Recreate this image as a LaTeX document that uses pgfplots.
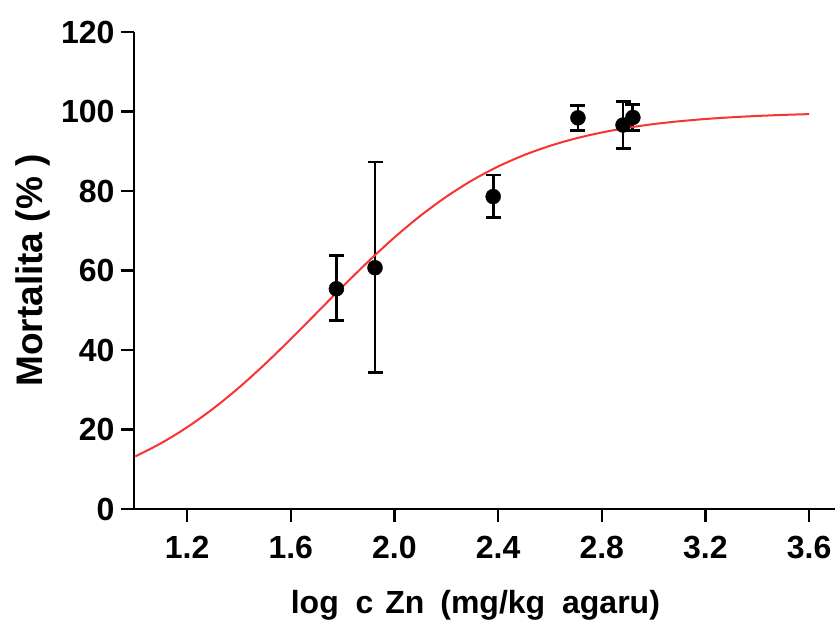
\documentclass[border=0pt]{standalone}
\usepackage{pgfplots}
\pgfplotsset{compat=1.18}
\usepackage{pgfplotstable}
\usepackage{fontspec}
\setmainfont{Liberation Sans}
\definecolor{fitred}{RGB}{250,50,50}
\pgfplotstableread{
x y ep em
1.776 55.4 8.3 8.0
1.925 60.7 26.6 26.3
2.381 78.6 5.4 5.3
2.708 98.4 3.2 3.1
2.882 96.6 6.0 6.0
2.920 98.5 3.2 3.2
}\points
\pgfplotstableread{
x y
1.0 13.22
1.1 16.57
1.2 20.56
1.3 25.23
1.4 30.54
1.5 36.43
1.6 42.76
1.7 49.34
1.8 55.94
1.9 62.33
2.0 68.32
2.1 73.76
2.2 78.55
2.3 82.69
2.4 86.16
2.5 89.02
2.6 91.36
2.7 93.23
2.8 94.72
2.9 95.90
3.0 96.83
3.1 97.55
3.2 98.11
3.3 98.54
3.4 98.88
3.5 99.14
3.6 99.34
}\fit
\begin{document}
\begin{tikzpicture}
\useasboundingbox (-134pt,-114pt) rectangle (701pt,509pt);
\begin{axis}[
  at={(0,0)}, anchor=south west,
  scale only axis, width=701pt, height=477pt,
  xmin=0.995, xmax=3.70, ymin=0, ymax=120,
  axis x line=bottom, axis y line=left,
  axis line style={-, line width=2.5pt, black},
  xtick={1.2,1.6,2.0,2.4,2.8,3.2,3.6},
  ytick={0,20,40,60,80,100,120},
  xticklabel style={/pgf/number format/fixed,/pgf/number format/precision=1,/pgf/number format/fixed zerofill, yshift=-11pt},
  yticklabel style={xshift=-3pt},
  /pgf/number format/assume math mode=true,
  tick align=outside, major tick length=13pt,
  tick style={line width=2.5pt, black},
  tick label style={font=\bfseries\fontsize{32}{32}\selectfont},
  xlabel={log\hspace{8pt} c\hspace{3pt} Zn\hspace{7pt} (mg/kg\hspace{8pt} agaru)},
  ylabel={Mortalita (\% )},
  xlabel style={font=\bfseries\fontsize{32}{32}\selectfont, at={(axis description cs:0.487,0)}, anchor=base, yshift=-104pt},
  ylabel style={font=\bfseries\fontsize{37}{37}\selectfont, at={(axis description cs:-0.13,0.5)}, anchor=base},
  clip=false,
]
\addplot[only marks, mark=*, mark size=7.5pt, black,
  error bars/.cd, y dir=both, y explicit,
  error bar style={line width=2.8pt, black},
  error mark options={line width=2.8pt, black, mark size=7.5pt, rotate=90}]
  table[x=x, y=y, y error plus=ep, y error minus=em] {\points};
\addplot[fitred, line width=2pt, smooth, no marks] table[x=x,y=y] {\fit};
\end{axis}
\end{tikzpicture}
\end{document}
